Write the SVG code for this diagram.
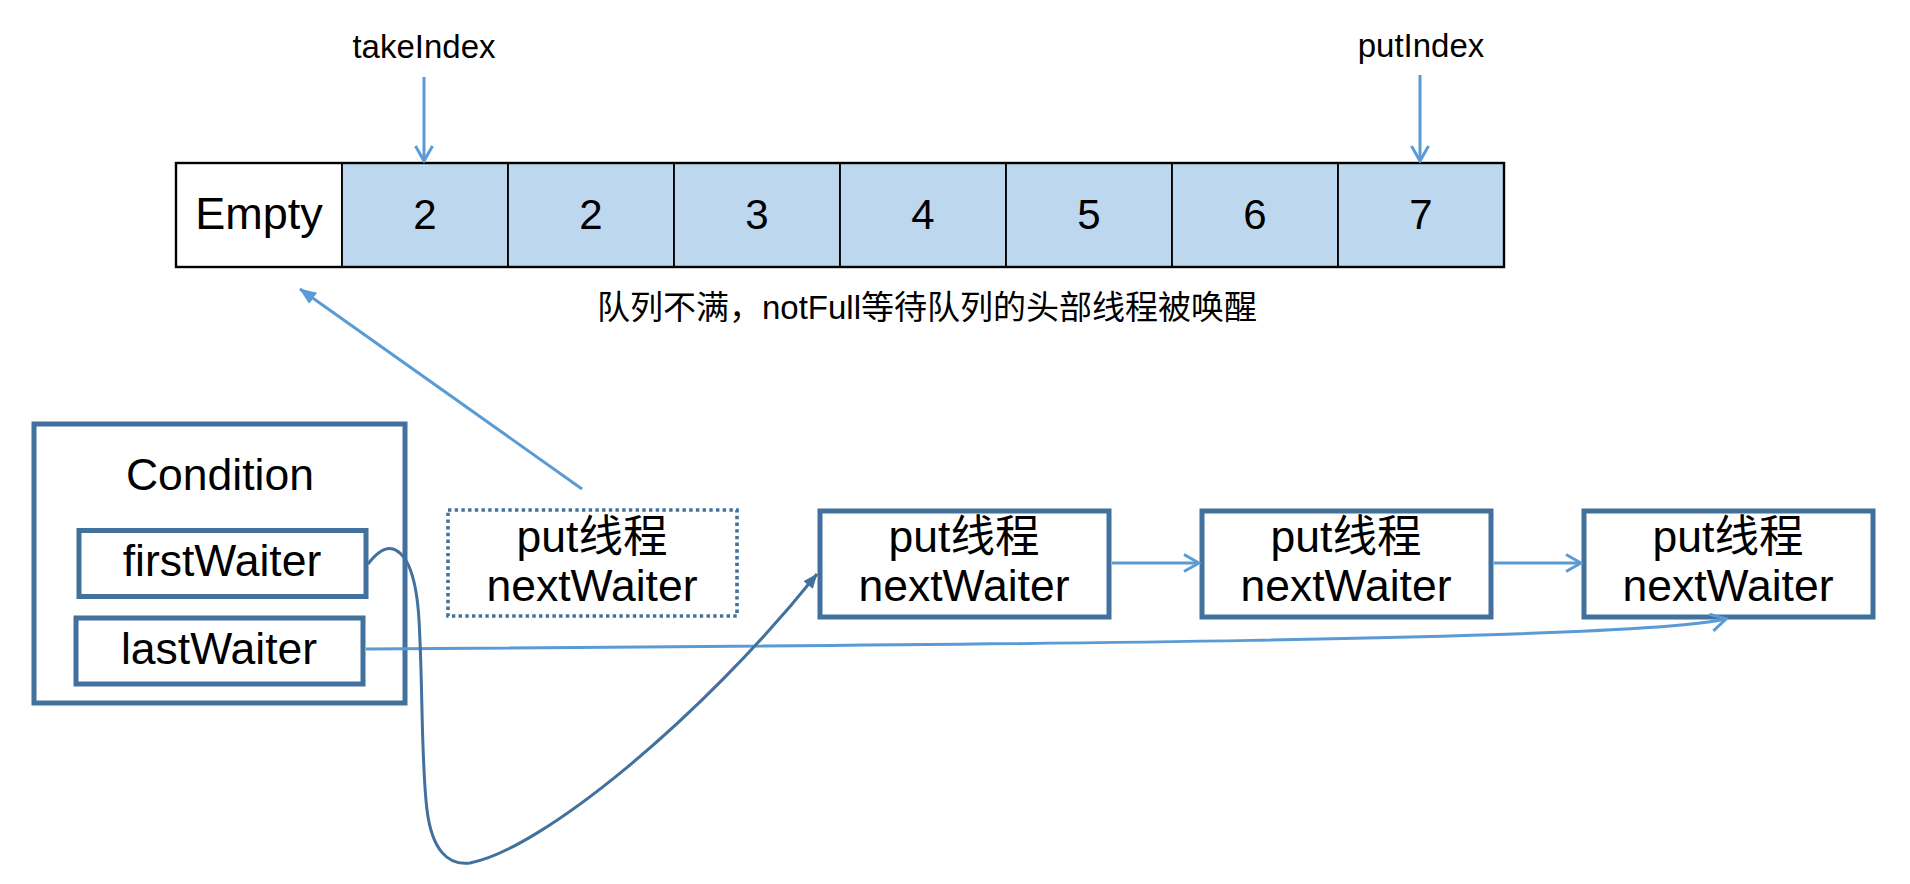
<svg xmlns="http://www.w3.org/2000/svg" width="1910" height="884" viewBox="0 0 1910 884">
<defs>
<style>
text{font-family:"Liberation Sans","Noto Sans CJK SC",sans-serif;fill:#000;text-anchor:middle}
.cell{fill:#BDD7EE;stroke:#000;stroke-width:1.8}
.empty{fill:#fff;stroke:#000;stroke-width:1.8}
.box{fill:#fff;stroke:#41719C;stroke-width:5}
.dot{fill:#fff;stroke:#41719C;stroke-width:3.6;stroke-dasharray:3.4 3.3}
.lt{fill:none;stroke:#5B9BD5;stroke-width:3}
.dk{fill:none;stroke:#41719C;stroke-width:3}
.big{font-size:44.5px}
.num{font-size:42px}
.idx{font-size:33px}
</style>
<marker id="chev" viewBox="0 0 20 20" refX="18" refY="10" markerWidth="20" markerHeight="20" markerUnits="userSpaceOnUse" orient="auto">
<path d="M3,1.5 L18,10 L3,18.5" fill="none" stroke="#5B9BD5" stroke-width="3"/>
</marker>
<marker id="triL" viewBox="0 0 20 20" refX="19" refY="10" markerWidth="17" markerHeight="17" markerUnits="userSpaceOnUse" orient="auto">
<path d="M0,2 L20,10 L0,18 z" fill="#5B9BD5"/>
</marker>
<marker id="triD" viewBox="0 0 20 20" refX="19" refY="10" markerWidth="15" markerHeight="15" markerUnits="userSpaceOnUse" orient="auto">
<path d="M0,2 L20,10 L0,18 z" fill="#41719C"/>
</marker>
</defs>
<rect width="1910" height="884" fill="#fff"/>

<g id="labels">
<text class="idx" x="424" y="58">takeIndex</text>
<text class="idx" x="1421" y="57">putIndex</text>
<text x="927" y="319" font-size="33">队列不满，notFull等待队列的头部线程被唤醒</text>
</g>

<g id="array">
<rect class="empty" x="176" y="163" width="166" height="104"/>
<rect class="cell" x="342" y="163" width="166" height="104"/>
<rect class="cell" x="508" y="163" width="166" height="104"/>
<rect class="cell" x="674" y="163" width="166" height="104"/>
<rect class="cell" x="840" y="163" width="166" height="104"/>
<rect class="cell" x="1006" y="163" width="166" height="104"/>
<rect class="cell" x="1172" y="163" width="166" height="104"/>
<rect class="cell" x="1338" y="163" width="166" height="104"/>
<rect x="176" y="163" width="1328" height="104" fill="none" stroke="#000" stroke-width="2.4"/>
<text x="259" y="229" font-size="45">Empty</text>
<text class="num" x="425" y="229">2</text>
<text class="num" x="591" y="229">2</text>
<text class="num" x="757" y="229">3</text>
<text class="num" x="923" y="229">4</text>
<text class="num" x="1089" y="229">5</text>
<text class="num" x="1255" y="229">6</text>
<text class="num" x="1421" y="229">7</text>
</g>

<g id="condition">
<rect class="box" x="34" y="424" width="371" height="279" stroke-width="4.5"/>
<text class="big" x="220" y="490">Condition</text>
</g>
<g id="firstWaiter">
<rect class="box" x="79" y="530.5" width="287" height="66" stroke-width="4.5"/>
<text class="big" x="222" y="576">firstWaiter</text>
</g>
<g id="lastWaiter">
<rect class="box" x="76" y="618" width="287" height="66" stroke-width="4.5"/>
<text class="big" x="219" y="664">lastWaiter</text>
</g>

<g id="node0">
<rect class="dot" x="448" y="510" width="289" height="106"/>
<text class="big" x="592" y="552">put线程</text>
<text class="big" x="592" y="601">nextWaiter</text>
</g>
<g id="node1">
<rect class="box" x="820" y="511" width="289" height="106"/>
<text class="big" x="964" y="552">put线程</text>
<text class="big" x="964" y="601">nextWaiter</text>
</g>
<g id="node2">
<rect class="box" x="1202" y="511" width="289" height="106"/>
<text class="big" x="1346" y="552">put线程</text>
<text class="big" x="1346" y="601">nextWaiter</text>
</g>
<g id="node3">
<rect class="box" x="1584" y="511" width="289" height="106"/>
<text class="big" x="1728" y="552">put线程</text>
<text class="big" x="1728" y="601">nextWaiter</text>
</g>

<g id="connectors">
<path class="lt" d="M424,77 L424,161" marker-end="url(#chev)"/>
<path class="lt" d="M1420,75 L1420,161" marker-end="url(#chev)"/>
<path class="lt" d="M582,489 L300,289" marker-end="url(#triL)"/>
<path class="lt" d="M1112,563 L1199,563" marker-end="url(#chev)"/>
<path class="lt" d="M1494,563 L1581,563" marker-end="url(#chev)"/>
<path class="lt" d="M366,649 C1000,645 1640,640 1726,619" marker-end="url(#chev)"/>
<path class="dk" d="M368,564 C378,551 386,547 393,549 C405,553 416,570 419,620 C423,690 421,760 427,810 C432,850 448,866 470,863 C540,850 700,720 817,574" marker-end="url(#triD)"/>
</g>
</svg>
